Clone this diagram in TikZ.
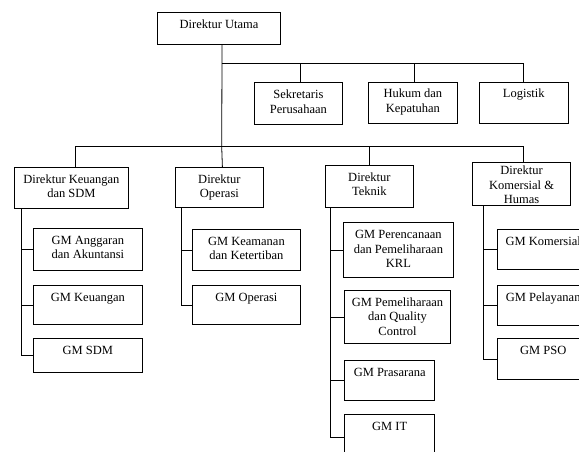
\documentclass[tikz,border=0pt]{standalone}
\usepackage{fontspec}
\setmainfont{Liberation Serif}

\tikzset{
  kotak/.style={draw, line width=0.8pt, inner sep=0pt, anchor=north west},
  garis/.style={line width=0.8pt}
}
% isi kotak: [tinggi baris pertama]{lebar}{tinggi}{teks}
\newcommand{\isi}[4][16pt]{\parbox[c][#3][t]{#2}{\centering\rule{0pt}{#1}#4}}

\begin{document}
\begin{tikzpicture}[x=1pt,y=-1pt,font=\fontsize{12.5pt}{14.5pt}\selectfont]
\useasboundingbox (0,0) rectangle (579,451);
\clip (0,0) rectangle (579,451);

% Direktur Utama dan staf
\node[kotak] (utama) at (157.3,11.7) {\isi{122.7pt}{32.6pt}{Direktur Utama}};
\node[kotak] (sekretaris) at (254,82.3) {\isi{88pt}{42pt}{Sekretaris\\Perusahaan}};
\node[kotak] (hukum) at (368.3,81.5) {\isi{88.4pt}{41.8pt}{Hukum dan\\Kepatuhan}};
\node[kotak] (logistik) at (479,81.5) {\isi{88.7pt}{41.8pt}{Logistik}};

% Direktur
\node[kotak] (dkeu) at (14,166.7) {\isi{114pt}{41.3pt}{Direktur Keuangan\\dan SDM}};
\node[kotak] (dops) at (175,167) {\isi{88pt}{40pt}{Direktur\\Operasi}};
\node[kotak] (dtek) at (325,165) {\isi{88pt}{42pt}{Direktur\\Teknik}};
\node[kotak] (dkom) at (472.3,162.3) {\isi[12pt]{97.7pt}{42.7pt}{Direktur\\Komersial \&\\Humas}};

% GM di bawah Direktur Keuangan dan SDM
\node[kotak] (anggaran) at (33,228) {\isi{109pt}{42pt}{GM Anggaran\\dan Akuntansi}};
\node[kotak] (keuangan) at (33,285) {\isi{109pt}{39pt}{GM Keuangan}};
\node[kotak] (sdm) at (33,338.3) {\isi{109pt}{33.4pt}{GM SDM}};

% GM di bawah Direktur Operasi
\node[kotak] (keamanan) at (192,229) {\isi{108pt}{41pt}{GM Keamanan\\dan Ketertiban}};
\node[kotak] (operasi) at (192,285) {\isi{108pt}{39pt}{GM Operasi}};

% GM di bawah Direktur Teknik
\node[kotak] (perencanaan) at (343.3,222.3) {\isi{109.4pt}{54.4pt}{GM Perencanaan\\dan Pemeliharaan\\KRL}};
\node[kotak] (pemeliharaan) at (344.3,290) {\isi{105.7pt}{53.3pt}{GM Pemeliharaan\\dan Quality\\Control}};
\node[kotak] (prasarana) at (344.3,360) {\isi{90pt}{40pt}{GM Prasarana}};
\node[kotak] (it) at (344.3,414.3) {\isi{90pt}{45pt}{GM IT}};

% GM di bawah Direktur Komersial & Humas
\node[kotak] (komersial) at (497.3,229) {\isi{91pt}{40.3pt}{GM Komersial}};
\node[kotak] (pelayanan) at (497.3,285) {\isi{91pt}{40pt}{GM Pelayanan}};
\node[kotak] (pso) at (497.3,338.3) {\isi{91pt}{41pt}{GM PSO}};

% Garis dari Direktur Utama
\coordinate (bus1) at (221.7,63.3);
\coordinate (bus2) at (221.7,146.7);
\draw[garis] ([xshift=3pt]utama.south) -- (bus2);
\draw[garis] (bus1) -| (logistik.north);
\foreach \n in {sekretaris,hukum}
  \draw[garis] ([xshift=1.5pt]\n.north) -- ([xshift=1.5pt]\n.north |- bus1);

% Garis ke para Direktur
\draw[garis] ([xshift=4pt]dkeu.north) |- (bus2) -| ([xshift=1.5pt]dkom.north);
\draw[garis] ([xshift=3pt]dops.north) -- (bus2);
\draw[garis] (dtek.north) -- (dtek.north |- bus2);

% Garis ke para GM
\coordinate (tKeu) at ([xshift=7.7pt]dkeu.south west);
\draw[garis] (tKeu) |- (sdm.west);
\foreach \n in {anggaran,keuangan}
  \draw[garis] (\n.west) -- (\n.west -| tKeu);

\coordinate (tOps) at ([xshift=6.7pt]dops.south west);
\draw[garis] (tOps) |- (operasi.west);
\draw[garis] (keamanan.west) -- (keamanan.west -| tOps);

\coordinate (tTek) at ([xshift=5.7pt]dtek.south west);
\draw[garis] (tTek) |- (it.west);
\foreach \n in {perencanaan,pemeliharaan,prasarana}
  \draw[garis] (\n.west) -- (\n.west -| tTek);

\coordinate (tKom) at ([xshift=11pt]dkom.south west);
\draw[garis] (tKom) |- (pso.west);
\foreach \n in {komersial,pelayanan}
  \draw[garis] (\n.west) -- (\n.west -| tKom);

\end{tikzpicture}
\end{document}
